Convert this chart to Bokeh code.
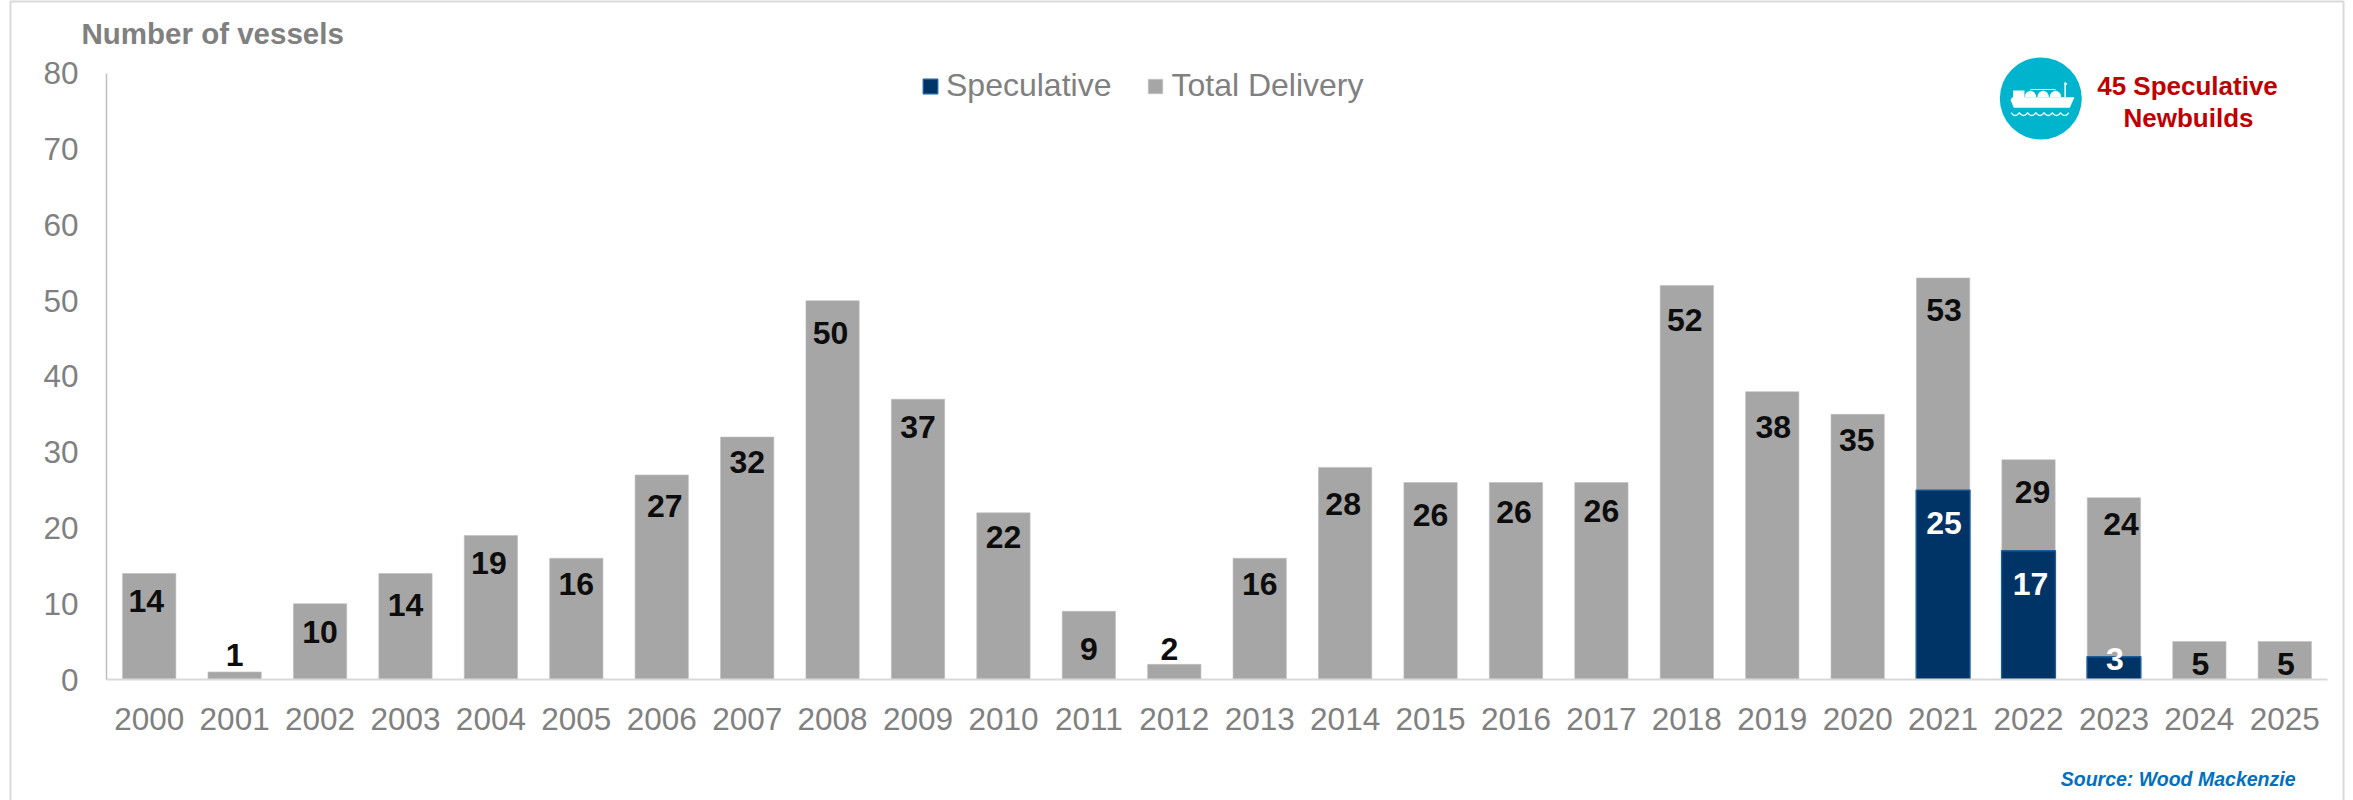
import numpy as np
from bokeh.core.properties import value
from bokeh.embed import file_html
from bokeh.models import ColumnDataSource, FixedTicker, Legend, LegendItem, Range1d
from bokeh.plotting import figure
from bokeh.resources import INLINE

years = [2000, 2001, 2002, 2003, 2004, 2005, 2006, 2007, 2008, 2009, 2010, 2011, 2012,
         2013, 2014, 2015, 2016, 2017, 2018, 2019, 2020, 2021, 2022, 2023, 2024, 2025]
total_delivery = [14, 1, 10, 14, 19, 16, 27, 32, 50, 37, 22, 9, 2,
                  16, 28, 26, 26, 26, 52, 38, 35, 53, 29, 24, 5, 5]
speculative_years = [2021, 2022, 2023]
speculative = [25, 17, 3]
y_ticks = [0, 10, 20, 30, 40, 50, 60, 70, 80]

# Hand placement of the value labels, in pixels from each bar's top centre.
total_dx = [-3, 0, 0, 0, -2, 0, 3, 0, -2, 0, 0, 0, -5, 0, -2, 0, -2, 0, -2, 1, -1, 1, 4, 7, 1, 1]
total_dy = [28, -17, 28, 32, 27, 26, 31, 25, 32, 28, 24, 38, -15, 26, 37, 32, 29, 28, 34, 35, 26, 32, 32, 26, 22, 22]
spec_dx = [1, 2, 1]
spec_dy = [33, 33, 2]

FONT = "Liberation Sans"
GREY = "#A6A6A6"
NAVY = "#003366"
MUTED = "#808080"

# The plot area reaches above the top tick so the legend and badge sit inside it.
p = figure(width=2353, height=800, output_backend="svg", toolbar_location=None,
           x_range=Range1d(1999.5, 2025.5),
           y_range=Range1d(0, 88.05), min_border_left=106, min_border_right=26,
           min_border_top=12, min_border_bottom=121, outline_line_color=None,
           background_fill_color="white", border_fill_color="white")
p.grid.visible = False

# A second coordinate system in page pixels, for the furniture around the chart.
p.extra_x_ranges["px"] = Range1d(106, 2327)
p.extra_y_ranges["px"] = Range1d(679, 12)

total_src = ColumnDataSource(dict(x=years, top=total_delivery,
                                  text=[str(v) for v in total_delivery],
                                  dx=total_dx, dy=total_dy))
spec_src = ColumnDataSource(dict(x=speculative_years, top=speculative,
                                 text=[str(v) for v in speculative],
                                 dx=spec_dx, dy=spec_dy))

grey_bars = p.vbar(x="x", top="top", bottom=0, width=0.624, source=total_src,
                   fill_color=GREY, line_color="#BDBDBD", line_width=0.6)
navy_bars = p.vbar(x="x", top="top", bottom=0, width=0.63, source=spec_src,
                   fill_color=NAVY, line_color="#1B5E9E", line_width=1.4)

p.text(x="x", y="top", text="text", source=total_src, x_offset="dx", y_offset="dy",
       text_align="center", text_baseline="middle", text_color="#0D0D0D",
       text_font=value(FONT), text_font_style="bold", text_font_size="32px")
p.text(x="x", y="top", text="text", source=spec_src, x_offset="dx", y_offset="dy",
       text_align="center", text_baseline="middle", text_color="white",
       text_font=value(FONT), text_font_style="bold", text_font_size="32px")

for ax in (p.xaxis[0], p.yaxis[0]):
    ax.major_tick_line_color = None
    ax.minor_tick_line_color = None
    ax.major_label_text_font = FONT
    ax.major_label_text_font_size = "31.5px"
    ax.major_label_text_color = MUTED
p.xaxis[0].axis_line_color = "#D9D9D9"
p.xaxis[0].axis_line_width = 2
p.xaxis[0].major_label_standoff = 22
p.xaxis[0].ticker = FixedTicker(ticks=years)
p.yaxis[0].axis_line_color = "#BFBFBF"
p.yaxis[0].axis_line_width = 1.5
p.yaxis[0].major_label_standoff = 22
p.yaxis[0].ticker = FixedTicker(ticks=y_ticks)
p.yaxis[0].bounds = (0, 80)

legend = Legend(items=[LegendItem(label="Speculative", renderers=[navy_bars]),
                       LegendItem(label="Total Delivery", renderers=[grey_bars])],
                orientation="horizontal", location=(815, 575), padding=0, margin=0,
                spacing=35, glyph_width=18, glyph_height=18, label_standoff=7,
                label_text_font=FONT, label_text_font_size="32px",
                label_text_color=MUTED, border_line_color=None,
                background_fill_alpha=0, level="overlay")
p.add_layout(legend, "center")

on_page = dict(x_range_name="px", y_range_name="px", level="overlay")

# Thin page frame, open along the bottom edge of the page.
p.line([10, 10, 2343, 2343], [800, 1, 1, 800], line_color="#DADADA", line_width=2, **on_page)

def page_text(x, y, text, color, size, style="normal", align="left"):
    p.text(x=[x], y=[y], text=[text], text_color=color, text_font=value(FONT),
           text_font_size=size, text_font_style=style, text_align=align,
           text_baseline="middle", **on_page)

page_text(81, 33, "Number of vessels", MUTED, "29.5px", "bold")
page_text(2295, 778, "Source: Wood Mackenzie", "#0070C0", "19.5px", "bold italic", "right")
page_text(2187, 85, "45 Speculative", "#C00000", "26px", "bold", "center")
page_text(2188, 117, "Newbuilds", "#C00000", "26px", "bold", "center")

# Round teal ship badge, drawn around its centre point.
cx, cy = 2040.3, 98.0
def ship_x(v):
    return [cx + (u - 121) / 3 for u in v]
def ship_y(v):
    return [cy + (u - 129) / 3 for u in v]

p.circle(x=[cx], y=[cy], radius=41, fill_color="#00B4CD", line_color=None, **on_page)
hull_u = [38, 38, 72, 72, 222, 208, 40, 30, 36]
hull_v = [125, 105, 105, 125, 125, 157, 157, 133, 125]
p.patch(ship_x(hull_u), ship_y(hull_v), fill_color="white", line_color=None, **on_page)
for dome_u in (90, 128, 165):
    angles = np.linspace(np.pi, 0, 16)
    p.patch(ship_x(dome_u + 17 * np.cos(angles)), ship_y(125 - 19 * np.sin(angles)),
            fill_color="white", line_color=None, **on_page)
p.line(ship_x([90, 165]), ship_y([102, 102]), line_color="white", line_width=1, **on_page)
p.line(ship_x([194, 194]), ship_y([125, 82]), line_color="white", line_width=1.5, **on_page)
p.patch(ship_x([193, 201, 193]), ship_y([78, 86, 90]), fill_color="white", line_color=None, **on_page)
wave_u = np.linspace(32, 205, 85)
wave_v = 172 + 8 * np.abs(np.sin((wave_u - 32) / 173 * 7 * np.pi))
p.line(ship_x(wave_u), ship_y(wave_v), line_color="white", line_width=1.3, **on_page)

open("out.html", "w").write(file_html(p, INLINE))
